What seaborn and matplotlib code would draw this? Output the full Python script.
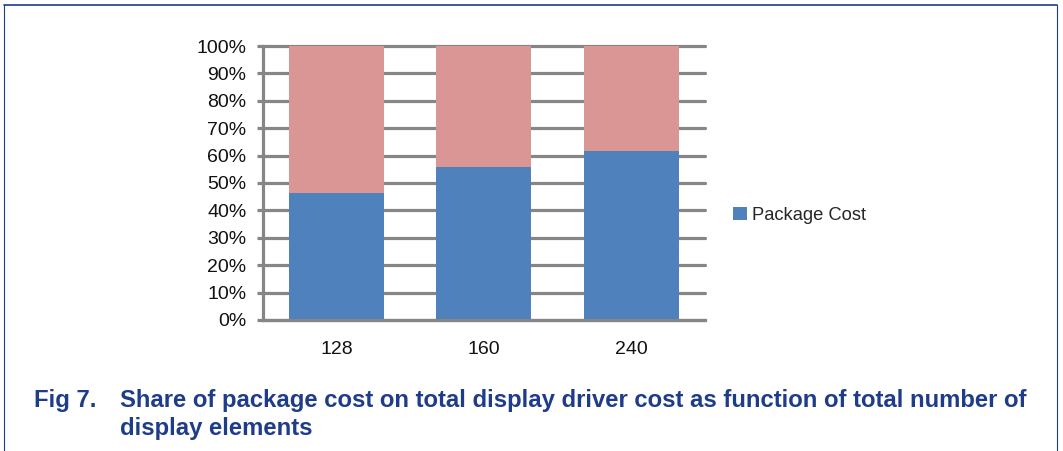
import matplotlib
matplotlib.use("Agg")
import matplotlib.pyplot as plt
import seaborn as sns
import pandas as pd
from matplotlib.lines import Line2D
from matplotlib.patches import Patch

# data
categories = ["128", "160", "240"]
package_share = [46.4, 55.8, 61.7]   # % of total cost, blue
other_share = [53.6, 44.2, 38.3]     # remaining share, pink
y_ticks = list(range(0, 101, 10))

blue = "#4F81BD"
pink = "#D99694"
grid_gray = "#868686"
navy = "#1F3C88"

sns.set_style("white")
plt.rcParams['font.family'] = ['Liberation Sans', 'DejaVu Sans']

fig = plt.figure(figsize=(10.63, 4.51), dpi=100)
ax = fig.add_axes([0.2474, 0.2905, 0.4158, 0.6075])

df = pd.DataFrame({"n": categories,
                   "package": package_share,
                   "other": other_share})
df["total"] = df["package"] + df["other"]

# stacked: full bar in pink, package part in blue on top
sns.barplot(data=df, x="n", y="total", color=pink, saturation=1,
            width=0.645, ax=ax, zorder=3, linewidth=0)
sns.barplot(data=df, x="n", y="package", color=blue, saturation=1,
            width=0.645, ax=ax, zorder=4, linewidth=0)

ax.set_ylim(0, 100)
ax.set_xlim(-0.5, 2.5)
ax.set_yticks(y_ticks)
ax.set_yticklabels([f"{t}%" for t in y_ticks])
ax.set_xlabel("")
ax.set_ylabel("")

for t in y_ticks:
    ax.axhline(t, color=grid_gray, lw=2.3, zorder=1, clip_on=False)

for s in ["top", "right"]:
    ax.spines[s].set_visible(False)
for s in ["left", "bottom"]:
    ax.spines[s].set_color(grid_gray)
    ax.spines[s].set_linewidth(2.3)
    ax.spines[s].set_zorder(5)

ax.tick_params(axis="y", length=4, width=2.3, color=grid_gray, pad=8,
               labelsize=14, labelcolor="#111111", left=True)
ax.tick_params(axis="x", length=0, pad=15, labelsize=14, labelcolor="#111111")

handles = [Patch(facecolor=blue, edgecolor="none", label="Package Cost")]
fig.legend(handles=handles, loc="center left", bbox_to_anchor=(0.683, 0.523),
           frameon=False, fontsize=13.2, handlelength=0.72, handleheight=0.72,
           handletextpad=0.3, borderaxespad=0)

# caption
cap_size = 17.2
fig.text(34 / 1063, 1 - 401 / 451, "Fig 7.", color=navy, fontsize=cap_size,
         fontweight="bold", va="center")
fig.text(120 / 1063, 1 - 401 / 451,
         "Share of package cost on total display driver cost as function of total number of",
         color=navy, fontsize=cap_size, fontweight="bold", va="center")
fig.text(120 / 1063, 1 - 428 / 451, "display elements", color=navy,
         fontsize=cap_size, fontweight="bold", va="center")

# page frame
fig.add_artist(Line2D([4 / 1063, 1057 / 1063], [1 - 5 / 451, 1 - 5 / 451],
                      transform=fig.transFigure, color=navy, lw=1.2))
fig.add_artist(Line2D([4 / 1063, 4 / 1063], [0, 1 - 5 / 451],
                      transform=fig.transFigure, color=navy, lw=0.8))
fig.add_artist(Line2D([1057 / 1063, 1057 / 1063], [0, 1 - 5 / 451],
                      transform=fig.transFigure, color=navy, lw=0.8))

fig.savefig("out.png", dpi=100)
